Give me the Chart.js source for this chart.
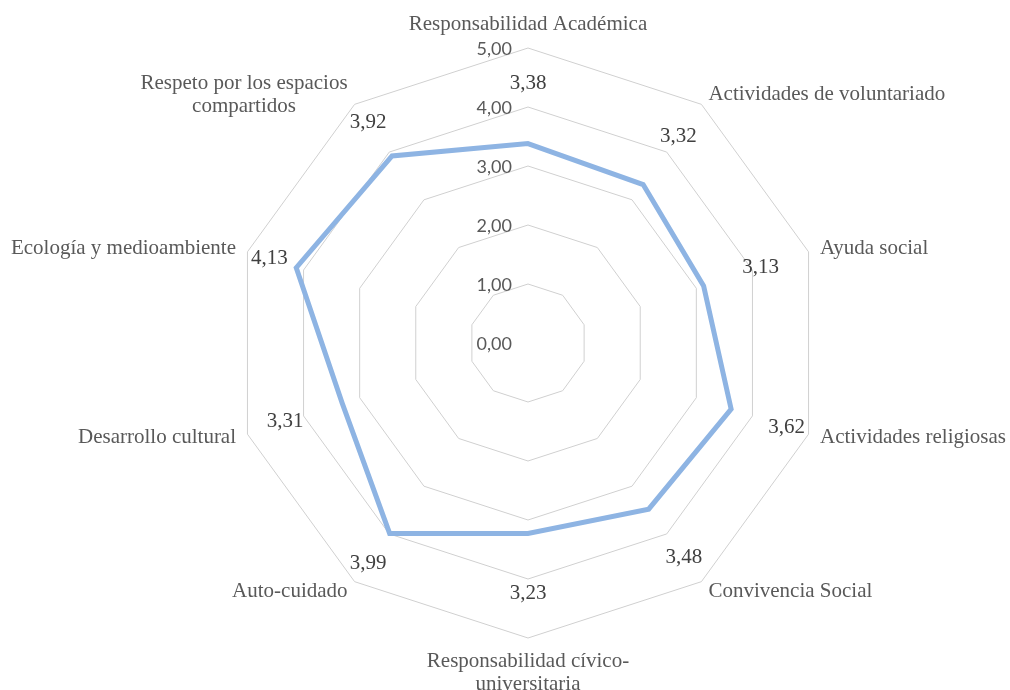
<!DOCTYPE html>
<html><head><meta charset="utf-8">
<script src="https://cdn.jsdelivr.net/npm/chart.js@4/dist/chart.umd.min.js"></script>
<style>html,body{margin:0;padding:0;background:#fff}#wrap{width:1010px;height:690px;position:relative}</style>
</head><body><div id="wrap"><canvas id="c" width="1010" height="690"></canvas></div>
<script>
const categories = [
  ['Responsabilidad Académica'],
  ['Actividades de voluntariado'],
  ['Ayuda social'],
  ['Actividades religiosas'],
  ['Convivencia Social'],
  ['Responsabilidad cívico-', 'universitaria'],
  ['Auto-cuidado'],
  ['Desarrollo cultural'],
  ['Ecología y medioambiente'],
  ['Respeto por los espacios', 'compartidos']
];
const values = [3.38, 3.32, 3.13, 3.62, 3.48, 3.23, 3.99, 3.31, 4.13, 3.92];
const tickValues = [0, 1, 2, 3, 4, 5];
const tickLabels = ['0,00', '1,00', '2,00', '3,00', '4,00', '5,00'];

const fmt = v => v.toFixed(2).replace('.', ',');

const labelPlugin = {
  id: 'customLabels',
  afterDraw(chart) {
    const s = chart.scales.r;
    const ctx = chart.ctx;
    ctx.save();
    // tick labels
    ctx.font = '18px Lato';
    ctx.fillStyle = '#595959';
    ctx.textAlign = 'right';
    ctx.textBaseline = 'middle';
    tickValues.forEach((v, i) => {
      const y = s.yCenter - s.getDistanceFromCenterForValue(v);
      ctx.fillText(tickLabels[i], s.xCenter - 16, y + 1);
    });
    // category labels
    ctx.font = '21px "Liberation Serif"';
    ctx.fillStyle = '#595959';
    ctx.textAlign = 'center';
    ctx.textBaseline = 'middle';
    const n = categories.length;
    const lh = 23;
    categories.forEach((lines, i) => {
      const p = s.getPointPosition(i, s.drawingArea + 12);
      const ang = i * 360 / n;
      const w = Math.max(...lines.map(l => ctx.measureText(l).width));
      const h = lines.length * lh;
      let cx, top;
      if (ang === 0) { cx = p.x; top = p.y - h; }
      else if (ang === 180) { cx = p.x; top = p.y; }
      else if (ang < 180) { cx = p.x + w / 2; top = p.y - h / 2; }
      else { cx = p.x - w / 2; top = p.y - h / 2; }
      lines.forEach((l, k) => ctx.fillText(l, cx, top + lh * (k + 0.5)));
    });
    // data labels
    ctx.fillStyle = '#404040';
    values.forEach((v, i) => {
      const d = Math.min(s.getDistanceFromCenterForValue(v) + 60, 272);
      const p = s.getPointPosition(i, d);
      ctx.fillText(fmt(v), p.x, p.y);
    });
    ctx.restore();
  }
};

new Chart(document.getElementById('c'), {
  type: 'radar',
  data: {
    labels: categories,
    datasets: [{
      data: values,
      borderColor: '#8EB4E3',
      borderWidth: 5,
      fill: false,
      pointRadius: 0,
      pointHoverRadius: 0,
      tension: 0
    }]
  },
  options: {
    responsive: false,
    devicePixelRatio: 1,
    animation: false,
    layout: { padding: { left: 233, right: 187, top: 48, bottom: 52 } },
    plugins: { legend: { display: false }, tooltip: { enabled: false } },
    scales: {
      r: {
        min: 0,
        max: 5,
        ticks: { stepSize: 1, display: false },
        grid: { color: '#d0d0d0', lineWidth: 1 },
        angleLines: { display: false },
        pointLabels: { display: false }
      }
    }
  },
  plugins: [labelPlugin]
});
</script>
</body></html>
